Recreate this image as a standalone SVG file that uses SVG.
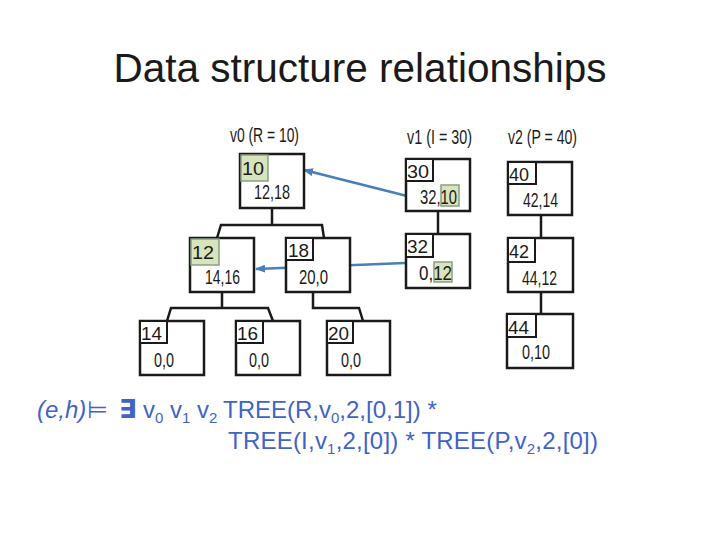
<svg xmlns="http://www.w3.org/2000/svg" width="720" height="540" viewBox="0 0 720 540">
<defs>
<marker id="ah" markerWidth="10" markerHeight="8" refX="9" refY="4" orient="auto" markerUnits="userSpaceOnUse">
<path d="M0,0 L10,4 L0,8 Z" fill="#4a7ebb"/>
</marker>
<style>
.t{font-family:"Liberation Sans",Arial,sans-serif;fill:#1a1a1a}
.box{fill:#fff;stroke:#1a1a1a;stroke-width:2.5}
.in{fill:#fff;stroke:#1a1a1a;stroke-width:2}
.gr{fill:#d8e4bc;stroke:#8a9d86;stroke-width:1.5}
.n{font-size:19px}
.m{font-size:21px}
.lb{font-size:21px}
.tree{fill:none;stroke:#1a1a1a;stroke-width:2.5}
.arr{fill:none;stroke:#4a7ebb;stroke-width:2.5}
.f{font-family:"Liberation Sans","DejaVu Sans",sans-serif;fill:#3f63c6;font-size:24px}
.s{font-size:15px}
</style>
</defs>
<rect width="720" height="540" fill="#fff"/>
<text class="t" x="360" y="82" font-size="40.5" text-anchor="middle">Data structure relationships</text>

<g id="labels">
<text class="t lb" x="230" y="142" textLength="69" lengthAdjust="spacingAndGlyphs">v0 (R = 10)</text>
<text class="t lb" x="407" y="144" textLength="65" lengthAdjust="spacingAndGlyphs">v1 (I = 30)</text>
<text class="t lb" x="508" y="144" textLength="69" lengthAdjust="spacingAndGlyphs">v2 (P = 40)</text>
</g>

<g id="connectors">
<path class="tree" d="M272,208 V225 M217,238 L221,225 H322 L324,238"/>
<path class="tree" d="M222,292 V308 M167,321 L171,308 H268 L273,321"/>
<path class="tree" d="M313,292 V308 H359 L363,321"/>
<path class="tree" d="M438,211 V234"/>
<path class="tree" d="M541,215 V238 M541,292 V314"/>
<path class="arr" d="M407,196 L304,170" marker-end="url(#ah)"/>
<path class="arr" d="M405,263 L256,269" marker-end="url(#ah)"/>
</g>

<g id="v0">
<rect class="box" x="240" y="154" width="64" height="54"/>
<rect class="gr" x="241" y="155" width="27" height="26"/>
<text class="t n" x="242" y="175" textLength="22" lengthAdjust="spacingAndGlyphs">10</text>
<text class="t m" x="254" y="199" textLength="36" lengthAdjust="spacingAndGlyphs">12,18</text>
</g>

<g id="n12">
<rect class="box" x="190" y="238" width="64" height="54"/>
<rect class="gr" x="191" y="239" width="28" height="26"/>
<text class="t n" x="192" y="259" textLength="22" lengthAdjust="spacingAndGlyphs">12</text>
<text class="t m" x="205" y="284" textLength="35" lengthAdjust="spacingAndGlyphs">14,16</text>
</g>

<g id="n18">
<rect class="box" x="286" y="238" width="64" height="54"/>
<rect class="in" x="286" y="238" width="27" height="22"/>
<text class="t n" x="288" y="257" textLength="21" lengthAdjust="spacingAndGlyphs">18</text>
<text class="t m" x="299" y="284" textLength="29" lengthAdjust="spacingAndGlyphs">20,0</text>
</g>

<g id="n14">
<rect class="box" x="140" y="321" width="64" height="54"/>
<rect class="in" x="140" y="321" width="27" height="22"/>
<text class="t n" x="141" y="340" textLength="21" lengthAdjust="spacingAndGlyphs">14</text>
<text class="t m" x="154" y="367" textLength="20" lengthAdjust="spacingAndGlyphs">0,0</text>
</g>

<g id="n16">
<rect class="box" x="236" y="321" width="64" height="54"/>
<rect class="in" x="236" y="321" width="27" height="22"/>
<text class="t n" x="237" y="340" textLength="21" lengthAdjust="spacingAndGlyphs">16</text>
<text class="t m" x="249" y="367" textLength="20" lengthAdjust="spacingAndGlyphs">0,0</text>
</g>

<g id="n20">
<rect class="box" x="327" y="321" width="63" height="54"/>
<rect class="in" x="327" y="321" width="26" height="22"/>
<text class="t n" x="328" y="340" textLength="21" lengthAdjust="spacingAndGlyphs">20</text>
<text class="t m" x="341" y="367" textLength="20" lengthAdjust="spacingAndGlyphs">0,0</text>
</g>

<g id="v1">
<rect class="box" x="406" y="159" width="64" height="52"/>
<rect class="in" x="406" y="159" width="27" height="22"/>
<text class="t n" x="407" y="178" textLength="22" lengthAdjust="spacingAndGlyphs">30</text>
<rect class="gr" x="441" y="185" width="18" height="21"/>
<text class="t m" x="420" y="204" textLength="37" lengthAdjust="spacingAndGlyphs">32,10</text>
</g>

<g id="v1b">
<rect class="box" x="406" y="234" width="64" height="54"/>
<rect class="in" x="406" y="234" width="27" height="23"/>
<text class="t n" x="407" y="253" textLength="21" lengthAdjust="spacingAndGlyphs">32</text>
<rect class="gr" x="434" y="262" width="18" height="20"/>
<text class="t m" x="419" y="280" textLength="33" lengthAdjust="spacingAndGlyphs">0,12</text>
</g>

<g id="v2">
<rect class="box" x="508" y="162" width="64" height="53"/>
<rect class="in" x="508" y="162" width="28" height="22"/>
<text class="t n" x="509" y="181" textLength="20" lengthAdjust="spacingAndGlyphs">40</text>
<text class="t m" x="523" y="207" textLength="35" lengthAdjust="spacingAndGlyphs">42,14</text>
</g>

<g id="v2b">
<rect class="box" x="508" y="238" width="65" height="54"/>
<rect class="in" x="508" y="238" width="27" height="24"/>
<text class="t n" x="509" y="258" textLength="20" lengthAdjust="spacingAndGlyphs">42</text>
<text class="t m" x="522" y="285" textLength="35" lengthAdjust="spacingAndGlyphs">44,12</text>
</g>

<g id="v2c">
<rect class="box" x="507" y="314" width="66" height="54"/>
<rect class="in" x="507" y="314" width="29" height="23"/>
<text class="t n" x="508" y="334" textLength="21" lengthAdjust="spacingAndGlyphs">44</text>
<text class="t m" x="522" y="359" textLength="28" lengthAdjust="spacingAndGlyphs">0,10</text>
</g>

<g id="formula">
<text class="f" x="37" y="418"><tspan font-style="italic">(e,h)</tspan><tspan x="87">⊨</tspan><tspan x="119" font-weight="bold" font-size="26">∃</tspan><tspan x="143">v</tspan><tspan class="s" y="423">0</tspan><tspan x="170" y="418">v</tspan><tspan class="s" y="423">1</tspan><tspan x="197" y="418">v</tspan><tspan class="s" y="423">2</tspan><tspan x="223" y="418">TREE(R,v</tspan><tspan class="s" y="423">0</tspan><tspan y="418">,2,[0,1]) *</tspan></text>
<text class="f" x="228" y="449" textLength="370">TREE(I,v<tspan class="s" y="454">1</tspan><tspan y="449">,2,[0]) * TREE(P,v</tspan><tspan class="s" y="454">2</tspan><tspan y="449">,2,[0])</tspan></text>
</g>
</svg>
